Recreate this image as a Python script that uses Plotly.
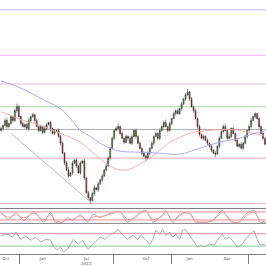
import plotly.graph_objects as go

# ---------------- data ----------------
close_vals = [78,81,86,80,83,90,86,96,100,90,
              83,80,82,78,86,90,92,86,80,76,
              80,74,78,82,84,78,73,75,76,70,
              63,53,43,36,30,33,43,46,40,33,
              43,45,28,13,8,5,12,18,16,22,
              26,30,36,40,48,58,68,76,78,80,
              73,68,64,70,68,63,70,76,70,63,
              58,53,50,48,53,58,63,70,73,68,
              76,80,84,80,76,83,88,93,96,93,
              98,103,108,112,115,108,100,96,88,80,
              72,68,70,66,63,60,56,53,52,60,
              68,75,80,76,68,70,78,73,66,60,
              62,58,63,70,76,80,86,90,93,88,
              80,73,68,62]
open_vals = [76,78,81,86,80,83,90,86,96,100,
             90,83,80,82,78,86,90,92,86,80,
             76,80,74,78,82,84,78,73,75,76,
             70,63,53,43,36,30,33,43,46,40,
             33,43,45,28,13,8,5,12,18,16,
             22,26,30,36,40,48,58,68,76,78,
             80,73,68,64,70,68,63,70,76,70,
             63,58,53,50,48,53,58,63,70,73,
             68,76,80,84,80,76,83,88,93,96,
             93,98,103,108,112,115,108,100,96,88,
             80,72,68,70,66,63,60,56,53,52,
             60,68,75,80,76,68,70,78,73,66,
             60,62,58,63,70,76,80,86,90,93,
             88,80,73,68]
upper_wick = [2,1,2,3,1,2,1,2,3,2,
              1,2,1,2,3,1,2,1,2,1,
              2,1,3,2,1,2,1,2,1,2,
              1,2,1,2,3,1,2,1,2,1,
              2,1,2,1,2,1,2,3,1,2,
              1,2,1,2,2,1,2,1,2,3,
              1,2,1,2,1,2,2,1,2,1,
              2,1,2,1,2,1,2,1,2,1,
              2,1,2,3,1,2,1,2,1,2,
              1,2,1,2,3,1,2,1,2,1,
              2,1,2,1,2,1,2,1,2,1,
              2,1,2,3,1,2,1,2,1,2,
              1,2,1,2,1,2,3,1,2,1,
              2,1,2,1]
lower_wick = [1,2,1,2,2,1,2,1,2,1,
              2,1,2,1,2,2,1,2,1,2,
              1,2,1,2,1,3,1,2,1,2,
              2,1,2,1,2,1,2,1,2,1,
              2,1,2,1,2,3,1,2,1,2,
              1,2,1,2,1,2,1,2,1,2,
              2,1,2,1,2,1,2,1,2,1,
              1,2,1,3,1,2,1,2,1,2,
              2,1,2,1,2,1,2,1,2,1,
              1,2,1,2,1,2,1,2,1,2,
              2,1,2,1,2,1,2,1,3,1,
              2,1,2,1,2,1,2,1,2,1,
              2,1,2,1,2,1,2,1,2,1,
              2,1,2,1]
bar_index = list(range(len(close_vals)))
high_vals = [max(o, c) + u for o, c, u in zip(open_vals, close_vals, upper_wick)]
low_vals = [min(o, c) - d for o, c, d in zip(open_vals, close_vals, lower_wick)]

# moving averages (sparse readings)
ma_red_x = [0,5,10,15,20,25,30,35,40,45,50,55,60,65,70,75,80,85,90,95,100,105,110,115,120,125,130,133]
ma_red_y = [95,91,87,84,81,77,73,69,64,56,47,40,36,37,42,48,56,64,69,73,75,76,77,77,76,74,72,70]
ma_blue_x = [0,7.5,15,22.5,30,35,40,45,50,55,60,70,80,90,100,110,120,127.5,133]
ma_blue_y = [126,121,114,106,98,88,76,70,63,58,55,54,53,52,58,64,68,73,75]

# trend line
trend_x = [5, 46]
trend_y = [73, 2]

# horizontal levels
level_vals = [198, 152, 123, 100, 77, 48, 2]
level_colors = ["#b8b8ff", "#ffb0ff", "#dcbcdc", "#b0d8b0", "#adadad", "#ffb8b8", "#ffb8b8"]

# stochastic
stoch_x = [0,4,7.5,11.5,16.5,21.5,25,27.5,31,33.5,36,40,43.5,46.5,50,53.5,56.5,60,63.5,67,
           70,73,76.5,81.5,83,86.5,90,92.5,95.5,98,106.5,111.5,114,116.5,120,123,127.5,130.5,133]
stoch_k = [76,24,76,17,83,5,76,3,3,39,17,61,5,61,39,61,76,83,5,40,
           76,90,5,61,90,5,61,76,61,3,17,90,39,3,5,61,90,3,5]
stoch_d = [70,40,60,35,70,20,60,15,5,25,25,50,20,45,45,55,70,80,25,30,
           65,85,25,50,80,20,50,70,65,15,12,75,50,10,5,45,80,20,5]
stoch_levels = [80, 20]

# RSI
rsi_x = [0,3.5,6,7.5,10,12.5,15,17.5,20,22.5,25,26.5,28.5,30,31.5,33.5,35,36.5,39,41,
         42.5,44,46,48.5,50,52.5,55,57.5,59,61,63.5,66.5,69,70.5,73,75,76.5,78,80,81.5,
         83,85,86.5,88,90,91.5,93,95,96.5,99,100.5,102.5,105,107.5,110,111.5,113,115,116.5,119,
         121.5,124,125.5,127.5,129,130.5,133]
rsi_y = [65,68,59,75,52,62,49,59,43,52,49,27,17,27,11,20,36,52,36,49,
         33,20,36,49,59,52,68,75,84,68,52,65,52,65,49,36,52,81,68,84,
         65,75,59,68,52,81,84,65,49,27,33,27,36,33,59,68,52,59,49,27,
         36,59,68,81,52,33,36]
rsi_levels = [70, 30]
rsi_level_colors = ["#ff9090", "#90c890"]

# x-axis labels
label_pos = [2.5, 21, 43, 73, 95, 114, 131]
label_text = ["Oct", "Jan", "Jul<br>2012", "Oct", "Jan", "Apr", "<br>2013"]
separator_pos = [9.5, 56.5, 86, 124.5]

# ---------------- figure ----------------
fig = go.Figure()

fig.add_trace(go.Candlestick(
    x=bar_index, open=open_vals, high=high_vals, low=low_vals, close=close_vals,
    increasing=dict(line=dict(color="#222222", width=0.5), fillcolor="#30a830"),
    decreasing=dict(line=dict(color="#222222", width=0.5), fillcolor="#d02828"),
    whiskerwidth=0, xaxis="x", yaxis="y", showlegend=False))

fig.add_trace(go.Scatter(x=ma_red_x, y=ma_red_y, mode="lines", line=dict(color="#ffa4a4", width=0.9, shape="spline"),
                         xaxis="x", yaxis="y", showlegend=False))
fig.add_trace(go.Scatter(x=ma_blue_x, y=ma_blue_y, mode="lines", line=dict(color="#a4a4ff", width=0.9, shape="spline"),
                         xaxis="x", yaxis="y", showlegend=False))
fig.add_trace(go.Scatter(x=trend_x, y=trend_y, mode="lines", line=dict(color="#bcbcbc", width=1),
                         xaxis="x", yaxis="y", showlegend=False))

fig.add_trace(go.Scatter(x=stoch_x, y=stoch_k, mode="lines",
                         line=dict(color="#a0a0a0", width=0.8, shape="spline", smoothing=0.8),
                         xaxis="x", yaxis="y2", showlegend=False))
fig.add_trace(go.Scatter(x=stoch_x, y=stoch_d, mode="lines",
                         line=dict(color="#ff9c9c", width=1, shape="spline", smoothing=0.8),
                         xaxis="x", yaxis="y2", showlegend=False))

fig.add_trace(go.Scatter(x=rsi_x, y=rsi_y, mode="lines", line=dict(color="#9a9a9a", width=0.8),
                         xaxis="x", yaxis="y3", showlegend=False))

shapes = []
for v, col in zip(level_vals, level_colors):
    shapes.append(dict(type="line", xref="x domain", yref="y", x0=0, x1=1, y0=v, y1=v,
                       line=dict(color=col, width=1), layer="below"))
for v in stoch_levels:
    shapes.append(dict(type="line", xref="x domain", yref="y2", x0=0, x1=1, y0=v, y1=v,
                       line=dict(color="#ff8c8c", width=1), layer="below"))
for v, col in zip(rsi_levels, rsi_level_colors):
    shapes.append(dict(type="line", xref="x domain", yref="y3", x0=0, x1=1, y0=v, y1=v,
                       line=dict(color=col, width=1), layer="below"))
# stochastic panel borders
for d in (0, 1):
    shapes.append(dict(type="line", xref="x domain", yref="y2 domain", x0=0, x1=1, y0=d, y1=d,
                       line=dict(color="#808080", width=1)))

fig.update_layout(
    width=266, height=266,
    margin=dict(l=0, r=0, t=0, b=9, pad=0),
    paper_bgcolor="white", plot_bgcolor="white",
    showlegend=False,
    shapes=shapes,
    xaxis=dict(anchor="y3", range=[-0.5, 133.5], showgrid=False, zeroline=False,
               showline=True, linecolor="#808080", linewidth=1,
               tickmode="array", tickvals=label_pos, ticktext=label_text, ticks="",
               tickfont=dict(family="DejaVu Sans", size=4, color="#555555"),
               minor=dict(tickmode="array", tickvals=separator_pos, ticks="outside",
                          ticklen=9, tickcolor="#808080", tickwidth=1, showgrid=False),
               rangeslider=dict(visible=False)),
    yaxis=dict(domain=[0.1907, 1], range=[0, 208], showticklabels=False, showgrid=False, zeroline=False),
    yaxis2=dict(domain=[0.1206, 0.179], range=[-5, 105], showticklabels=False, showgrid=False, zeroline=False),
    yaxis3=dict(domain=[0, 0.1206], range=[4.4, 103.6], showticklabels=False, showgrid=False, zeroline=False),
)

fig.write_html("out.html")
